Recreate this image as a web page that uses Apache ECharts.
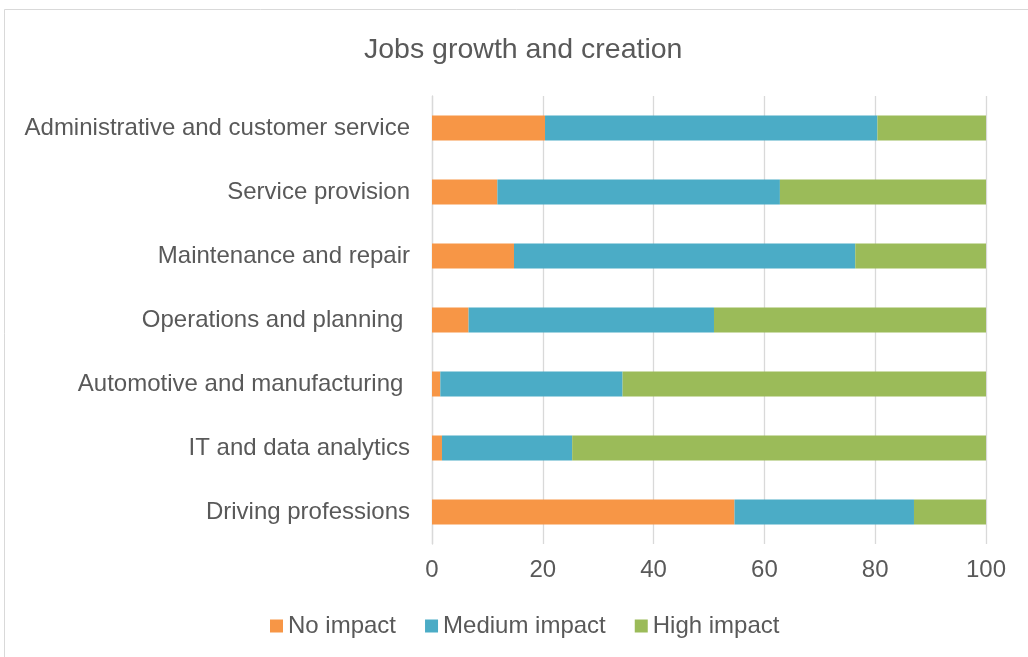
<!DOCTYPE html>
<html>
<head>
<meta charset="utf-8">
<script src="https://cdn.jsdelivr.net/npm/echarts@6/dist/echarts.min.js"></script>
<style>
  html, body { margin: 0; padding: 0; background: #ffffff; }
  #chart { width: 1028px; height: 657px; }
</style>
</head>
<body>
<div id="chart"></div>
<script>
// Job categories, listed top to bottom
const categories = [
  'Administrative and customer service',
  'Service provision',
  'Maintenance and repair',
  'Operations and planning ',
  'Automotive and manufacturing ',
  'IT and data analytics',
  'Driving professions'
];

// Share of each impact level (%), same order as categories
const noImpact     = [20.4, 11.8, 14.8, 6.6, 1.5, 1.8, 54.6];
const mediumImpact = [60.0, 51.0, 61.6, 44.3, 32.9, 23.5, 32.4];
const highImpact   = [19.6, 37.2, 23.6, 49.1, 65.6, 74.7, 13.0];

const xTicks = [0, 20, 40, 60, 80, 100];

const FONT = '"Liberation Sans", Arial, sans-serif';
const TEXT = '#595959';

const chart = echarts.init(document.getElementById('chart'), null, { renderer: 'canvas' });

const barSeries = (name, data, color) => ({
  name,
  type: 'bar',
  stack: 'total',
  data,
  barWidth: 25,
  itemStyle: { color },
  emphasis: { disabled: true }
});

chart.setOption({
  animation: false,
  backgroundColor: '#ffffff',
  graphic: [{
    type: 'rect',
    shape: { x: 4.5, y: 9.5, width: 1040, height: 670 },
    style: { fill: 'none', stroke: '#D9D9D9', lineWidth: 1 },
    silent: true
  }],
  title: {
    text: 'Jobs growth and creation',
    left: 359,
    top: 31,
    textStyle: { fontFamily: FONT, fontSize: 28.5, fontWeight: 'normal', color: TEXT }
  },
  legend: {
    top: 609,
    left: 265,
    itemWidth: 13,
    itemHeight: 13,
    itemGap: 29,
    itemTextGap: 4,
    icon: 'rect',
    textStyle: { fontFamily: FONT, fontSize: 24, color: TEXT },
    data: ['No impact', 'Medium impact', 'High impact']
  },
  grid: { left: 432, right: 42, top: 96, bottom: 113, containLabel: false },
  xAxis: {
    type: 'value',
    min: 0,
    max: 100,
    interval: 20,
    axisLine: { show: false },
    axisTick: { show: false },
    axisLabel: {
      fontFamily: FONT, fontSize: 24, color: TEXT, margin: 14,
      formatter: v => (xTicks.includes(v) ? String(v) : '')
    },
    splitLine: { show: true, lineStyle: { color: '#D9D9D9', width: 1.3 } }
  },
  yAxis: {
    type: 'category',
    inverse: true,
    data: categories,
    axisLine: { show: true, lineStyle: { color: '#D9D9D9', width: 1.3 } },
    axisTick: { show: false },
    axisLabel: { fontFamily: FONT, fontSize: 24, color: TEXT, margin: 22 }
  },
  series: [
    barSeries('No impact', noImpact, '#F79646'),
    barSeries('Medium impact', mediumImpact, '#4BACC6'),
    barSeries('High impact', highImpact, '#9BBB59')
  ]
});
</script>
</body>
</html>
